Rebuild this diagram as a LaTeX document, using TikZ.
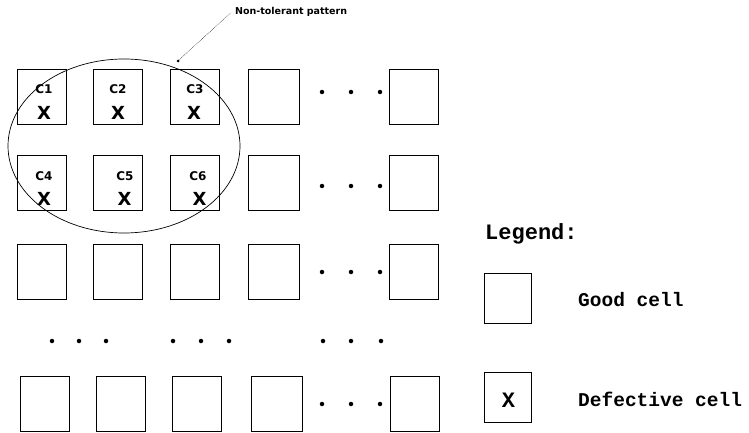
\documentclass[tikz,border=0pt]{standalone}
\usepackage{fontspec}
\newfontfamily\monobold{Liberation Mono Bold}
\newfontfamily\heavysans{DejaVu Sans Bold}
\begin{document}
\begin{tikzpicture}[x=1pt,y=-1pt,
  cell/.style={draw, line width=0.9pt, minimum width=49pt, minimum height=55pt, inner sep=0pt},
  legendcell/.style={draw, line width=0.9pt, minimum width=47pt, minimum height=50pt, inner sep=0pt},
  dot/.style={circle, fill, inner sep=0pt, minimum size=4.5pt},
  clabel/.style={font=\heavysans\fontsize{12}{12}\selectfont, inner sep=0pt},
  xmark/.style={font=\heavysans\fontsize{18}{18}\selectfont, inner sep=0pt},
  legendtext/.style={font=\monobold\fontsize{19.5}{20}\selectfont, anchor=base west, inner sep=0pt}]
\useasboundingbox (0,0) rectangle (749,433);

% first three full rows of cells
\foreach \r/\yy in {1/96.5, 2/182.5, 3/272} {
  \node[cell] (a\r1) at (42,\yy) {};
  \node[cell] (a\r2) at (117.5,\yy) {};
  \node[cell] (a\r3) at (194.5,\yy) {};
  \node[cell, minimum width=51pt] (a\r4) at (274,\yy) {};
  \node[cell] (a\r5) at (414,\yy) {};
}
% last row
\node[cell] (a51) at (45,404) {};
\node[cell] (a52) at (120.5,404) {};
\node[cell] (a53) at (197,404) {};
\node[cell, minimum width=51pt] (a54) at (277,404) {};
\node[cell] (a55) at (414.5,404) {};

% ellipses between columns 4 and 5
\foreach \r/\yy in {1/92, 2/186, 3/272, 5/404} {
  \node[dot] (h\r a) at (322,\yy) {};
  \node[dot] (h\r b) at (351,\yy) {};
  \node[dot] (h\r c) at (380,\yy) {};
}
% vertical ellipsis row
\foreach \i/\xx in {1/52, 2/79, 3/106, 4/173, 5/201, 6/229, 7/323, 8/351, 9/381} {
  \node[dot] (v\i) at (\xx,341) {};
}

% cell labels and defect marks
\node[clabel] (l1) at (44,89) {C1};
\node[xmark]  (x1) at (44,113) {X};
\node[clabel] (l2) at (118,89) {C2};
\node[xmark]  (x2) at (118,113) {X};
\node[clabel] (l3) at (195,89) {C3};
\node[xmark]  (x3) at (194,113) {X};
\node[clabel] (l4) at (44,176) {C4};
\node[xmark]  (x4) at (44,199) {X};
\node[clabel] (l5) at (125,176) {C5};
\node[xmark]  (x5) at (124.5,199) {X};
\node[clabel] (l6) at (198,176) {C6};
\node[xmark]  (x6) at (199.5,199) {X};

% pattern outline and its label
\draw[line width=0.7pt] (124,146) ellipse [x radius=116, y radius=87];
\coordinate (tip) at (178,61);
\fill (tip) circle (1.5pt);
\node[font=\heavysans\fontsize{9.5}{9.5}\selectfont, anchor=base west, inner sep=0pt] (pat) at (235,15) {Non-tolerant pattern};
\draw[densely dotted, line width=0.5pt] (tip) -- ([xshift=-4pt]pat.west);

% legend
\node[font=\monobold\fontsize{22}{22}\selectfont, anchor=base west, inner sep=0pt] (leg) at (485,239) {Legend:};
\node[legendcell] (good) at (507.5,298.5) {};
\node[legendtext] (goodt) at (578,306) {Good cell};
\node[legendcell] (bad) at (508,397.5) {};
\node[font=\monobold\fontsize{22}{22}\selectfont, inner sep=0pt] (badx) at (508.5,400) {X};
\node[legendtext] (badt) at (578,406) {Defective cell};
\end{tikzpicture}
\end{document}
